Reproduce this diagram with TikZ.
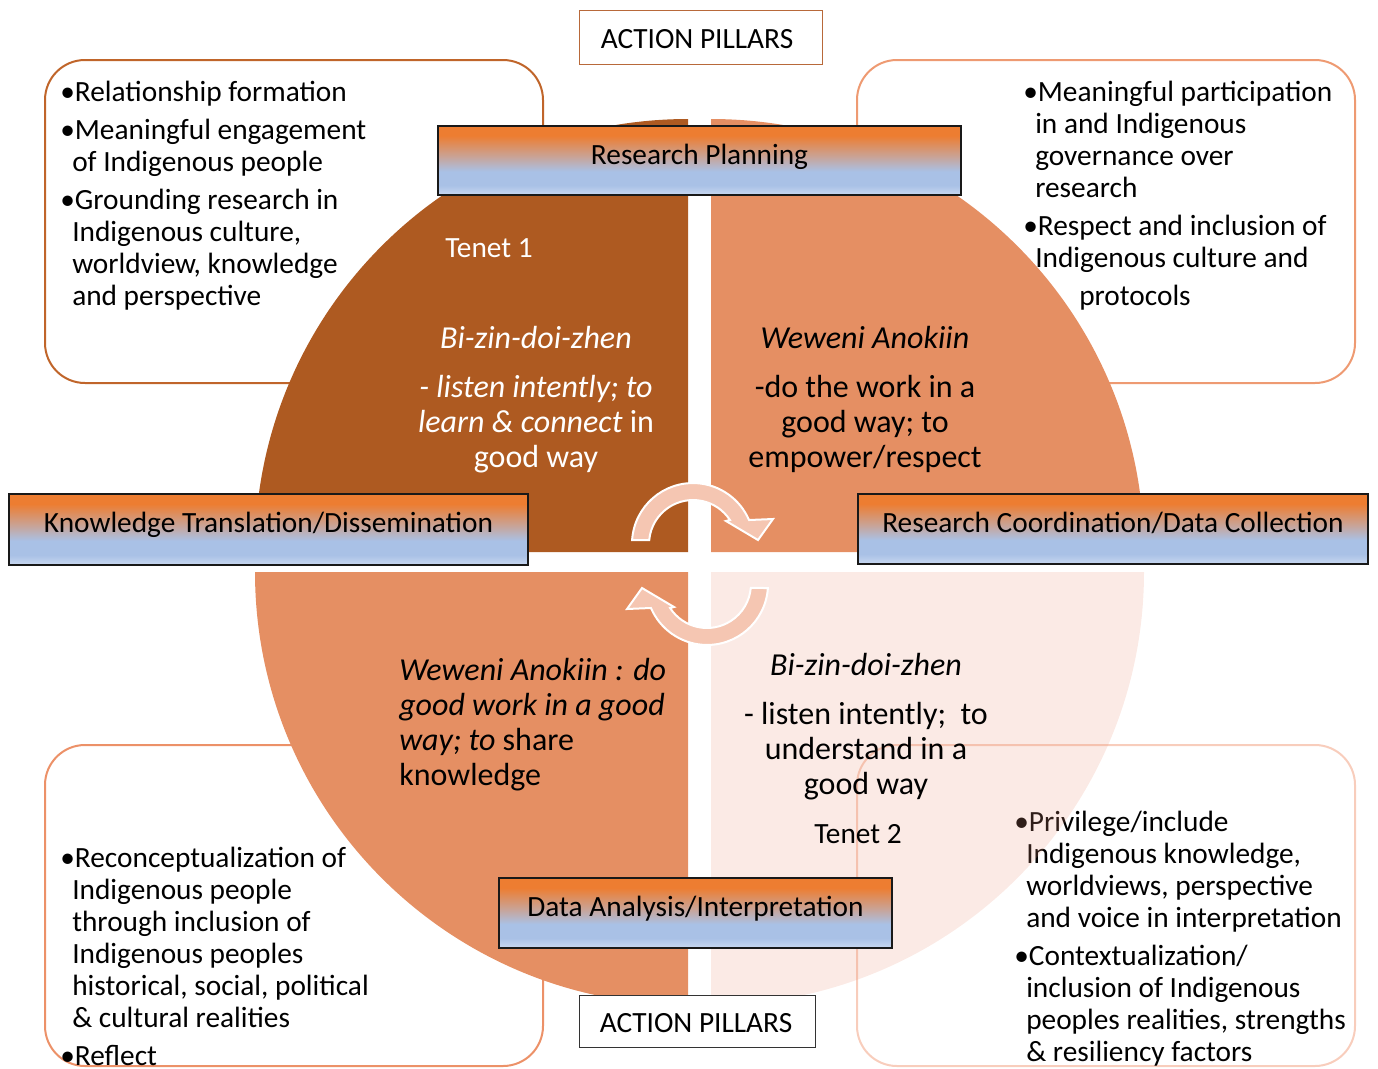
\documentclass[tikz,border=0pt]{standalone}
\usepackage{fontspec}
\setmainfont{Carlito}
\usepackage{xcolor}

\definecolor{tenetdark}{HTML}{AE5A21}
\definecolor{tenetmid}{HTML}{E58F63}
\definecolor{tenetlight}{HTML}{EB967D}
\definecolor{cyclearrow}{HTML}{F5C6B2}
\definecolor{barorange}{HTML}{ED7D31}
\definecolor{barmid}{HTML}{C9A396}
\definecolor{barblue}{HTML}{A9C1E6}
\definecolor{barlight}{HTML}{C9D8F0}
\definecolor{boxtl}{HTML}{C0652A}
\definecolor{boxtr}{HTML}{EE9A72}
\definecolor{boxbl}{HTML}{EC9168}
\definecolor{boxbr}{HTML}{F8CDBC}
\definecolor{pillarline}{HTML}{B8693A}

\pgfdeclareverticalshading{pillarshade}{100bp}{color(0bp)=(barlight); color(25bp)=(barlight); color(32bp)=(barblue); color(42bp)=(barblue); color(53bp)=(barmid); color(68bp)=(barorange); color(100bp)=(barorange)}

\newcommand{\boxfont}{\fontsize{22}{24}\selectfont}
\newcommand{\piefont}{\fontsize{24}{26.25}\selectfont}
\newcommand{\bulletmark}{\makebox[11pt][l]{•}}
\newcommand{\contindent}{\hspace*{9pt}}

\tikzset{
  corner box/.style={line width=1.5pt, rounded corners=30pt},
  pillar bar/.style={shade, shading=pillarshade, draw=black!90, line width=0.9pt},
  cycle arrow/.style={fill=cyclearrow, draw=white, line width=1.5pt},
  box text/.style={anchor=north west, inner sep=0pt, align=left, font=\boxfont},
  pie text/.style={anchor=north, inner sep=0pt, align=center, font=\piefont},
  bar text/.style={anchor=base, inner sep=0pt, font=\boxfont},
}

\begin{document}
\begin{tikzpicture}[x=0.75pt,y=0.75pt,yscale=-1,xscale=1]
\useasboundingbox (0,0) rectangle (1378,1068);

%Corner boxes
\draw[corner box, draw=boxtl] (45,60) rectangle (543,383);
\draw[corner box, draw=boxtr] (857,60) rectangle (1355,383);
\draw[corner box, draw=boxbl] (45,745) rectangle (543,1066);
\draw[corner box, draw=boxbr] (857,745) rectangle (1355,1066);

% Box texts
\node[box text] (relation) at (60,81) {\bulletmark Relationship formation\\[4.5pt]
  \bulletmark Meaningful engagement\\ \contindent of Indigenous people\\[4.5pt]
  \bulletmark Grounding research in\\ \contindent Indigenous culture,\\ \contindent worldview, knowledge\\ \contindent and perspective};
\node[box text] (govern) at (1023,81) {\bulletmark Meaningful participation\\ \contindent in and Indigenous\\ \contindent governance over\\ \contindent research\\[4.5pt]
  \bulletmark Respect and inclusion of\\ \contindent Indigenous culture and\\[4.5pt] \hspace*{42pt}protocols};
\node[box text] (reconcept) at (60,847) {\bulletmark Reconceptualization of\\ \contindent Indigenous people\\ \contindent through inclusion of\\ \contindent Indigenous peoples\\ \contindent historical, social, political\\ \contindent \& cultural realities\\[4.5pt]
  \bulletmark Reflect};
\node[box text] (privilege) at (1014,811) {\bulletmark Privilege/include\\ \contindent Indigenous knowledge,\\ \contindent worldviews, perspective\\ \contindent and voice in interpretation\\[4.5pt]
  \bulletmark Contextualization/\\ \contindent inclusion of Indigenous\\ \contindent peoples realities, strengths\\ \contindent \& resiliency factors};

%Quadrants
\fill[tenetdark] (688,552) -- (255,552) arc[start angle=180, end angle=270, radius=433] -- cycle;
\fill[tenetmid] (711,552) -- (711,119) arc[start angle=270, end angle=360, radius=433] -- cycle;
\fill[tenetmid] (688,572) -- (688,1005) arc[start angle=90, end angle=180, radius=433] -- cycle;
\fill[tenetlight, fill opacity=0.2] (711,572) -- (1144,572) arc[start angle=0, end angle=90, radius=433] -- cycle;

% Tenet texts
\node[bar text, text=white] (tenet1) at (489,257) {Tenet 1};
\node[pie text, text=white] (listen) at (536,326) {\textit{Bi-zin-doi-zhen}\\[10.5pt] \textit{- listen intently; to}\\ \textit{learn \& connect} in\\ good way};
\node[pie text] (work) at (865,326) {\textit{Weweni Anokiin}\\[10.5pt] -do the work in a\\ good way; to\\ empower/respect};
\node[pie text, anchor=north west, align=left] (share) at (399,658) {\textit{Weweni Anokiin : do}\\ \textit{good work in a good}\\ \textit{way; to} share\\ knowledge};
\node[pie text] (understand) at (866,653) {\textit{Bi-zin-doi-zhen}\\[10.5pt] - listen intently;~ to\\ understand in a\\ good way};
\node[bar text] (tenet2) at (858,843) {Tenet 2};

%Cycle arrows
\draw[cycle arrow] (632.1,540) arc[start angle=183.8, end angle=336.8, radius=61] -- (773,519) -- (758,540) -- (726,521) -- (729.9,520) arc[start angle=326.9, end angle=185.2, radius=44] -- cycle;
\draw[cycle arrow, rotate around={180:(700,564)}] (632.1,540) arc[start angle=183.8, end angle=336.8, radius=61] -- (773,519) -- (758,540) -- (726,521) -- (729.9,520) arc[start angle=326.9, end angle=185.2, radius=44] -- cycle;

%Action bars
\draw[pillar bar] (438,126) rectangle (961,195);
\draw[pillar bar] (9,494) rectangle (528,565);
\draw[pillar bar] (858,494) rectangle (1368,564);
\draw[pillar bar] (499,878) rectangle (892,948);
\node[bar text] (planning) at (699.5,164) {Research Planning};
\node[bar text] (dissemination) at (268.5,532) {Knowledge Translation/Dissemination};
\node[bar text] (collection) at (1113,532) {Research Coordination/Data Collection};
\node[bar text] (analysis) at (695.5,916) {Data Analysis/Interpretation};

%Action pillars labels
\draw[draw=pillarline, line width=0.75pt, fill=white] (579,10) rectangle (822,64);
\draw[draw=black!80, line width=0.75pt, fill=white] (579,995) rectangle (815,1047);
\node[bar text] (pillarstop) at (697,48) {ACTION PILLARS};
\node[bar text] (pillarsbottom) at (696,1032) {ACTION PILLARS};

\end{tikzpicture}
\end{document}
